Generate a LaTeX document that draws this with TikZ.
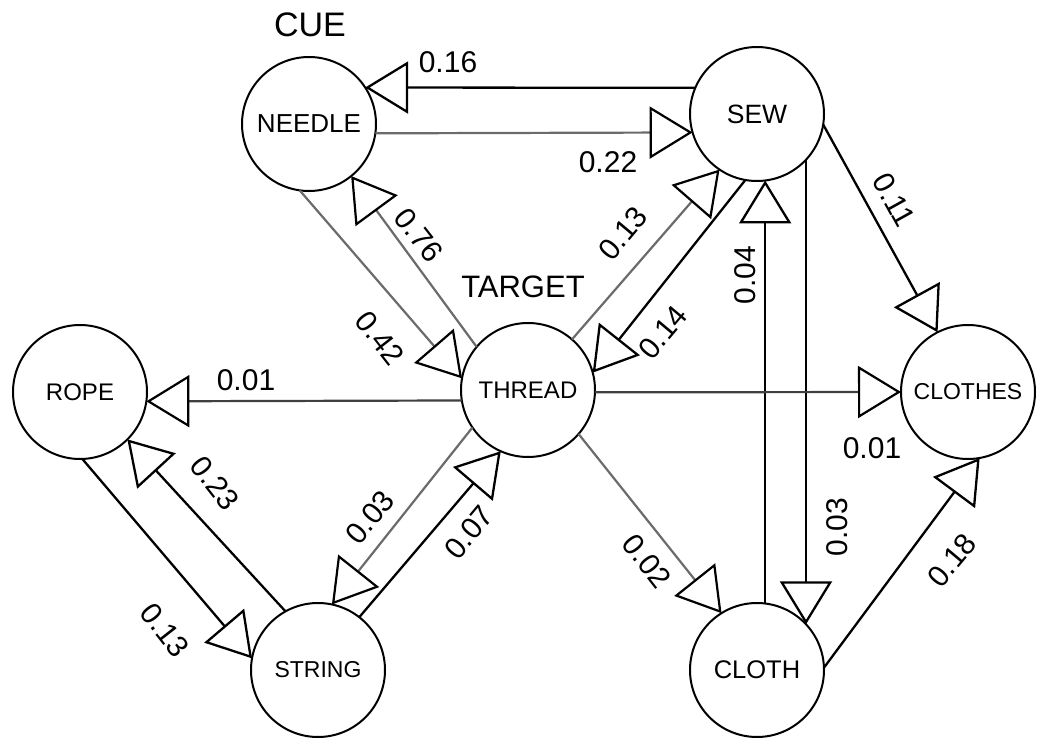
\documentclass[tikz,border=0pt]{standalone}
\usepackage{fontspec}
\setmainfont{Liberation Sans}
\usetikzlibrary{arrows.meta}
\begin{document}
\begin{tikzpicture}[x=1pt,y=-1pt,
  state/.style={circle, draw, line width=2pt, minimum size=134pt, inner sep=0pt, outer sep=0pt,
    font=\fontsize{24}{24}\selectfont},
  fs/.style={font=\fontsize{#1}{#1}\selectfont},
  num/.style={inner sep=0pt, font=\fontsize{30}{30}\selectfont},
  big/.style={inner sep=0pt, font=\fontsize{32}{32}\selectfont},
  tip/.style={-{Triangle[open,length=43pt,width=52pt,color=black]}},
  blk/.style={tip, line width=2.3pt, draw=black},
  gry/.style={tip, line width=2.2pt, draw=black!58},
  dgry/.style={tip, line width=2.2pt, draw=black!75}]
\useasboundingbox (0,0) rectangle (1050,746);
\fill[white] (0,0) rectangle (1050,746);

% nodes
\node[state, fs=26] (needle)  at (309,124) {NEEDLE};
\node[state, fs=26.5] (sew)   at (757,114) {SEW};
\node[state, fs=24] (thread)  at (528,390) {THREAD};
\node[state, fs=24] (rope)    at (80,392)  {ROPE};
\node[state, fs=23] (clothes) at (968,392) {CLOTHES};
\node[state, fs=23] (string)  at (318,670) {STRING};
\node[state, fs=25.5] (cloth) at (757,670) {CLOTH};

\node[big, fs=34] (cue) at (310,25) {CUE};
\node[big, fs=31] (target) at (523,287) {TARGET};

% edges
\draw[blk]  (sew.157)     -- (needle.33);
\draw[gry]  (needle.-8)   -- (sew.-164);
\draw[gry]  (needle.262)  -- (thread.170);
\draw[gry]  (thread.140)  -- (needle.-51);
\draw[gry]  (thread.49)   -- (sew.-124);
\draw[blk]  (sew.-100)    -- (thread.15);
\draw[blk]  (sew.-9)      -- (clothes.117);
\draw[blk]  (sew.-43)     -- (cloth.43);
\draw[blk]  (cloth.83)    -- (sew.-83);
\draw[dgry] (thread.-2.5) -- (clothes.180.8);
\draw[dgry] (thread.189.5) -- (rope.-8.6);
\draw[blk]  (rope.-88)    -- (string.170);
\draw[blk]  (string.119)  -- (rope.-45);
\draw[gry]  (thread.214)  -- (string.78);
\draw[blk]  (string.52)   -- (thread.246);
\draw[gry]  (thread.-41)  -- (cloth.122);
\draw[blk]  (cloth.2)     -- (clothes.-80);

% labels
\node[num] (l016)  at (448,62)  {0.16};
\node[num] (l022)  at (608,162) {0.22};
\node[num, rotate=-52] (l042) at (380,338) {0.42};
\node[num, rotate=-52] (l076) at (419,235) {0.76};
\node[num, rotate=50]  (l013a) at (623,233) {0.13};
\node[num, rotate=50]  (l014) at (663,332) {0.14};
\node[num, rotate=90]  (l004) at (745,275) {0.04};
\node[num, rotate=-61] (l011) at (894,200) {0.11};
\node[num] (l001a) at (872,448) {0.01};
\node[num, rotate=90]  (l003a) at (837,527) {0.03};
\node[num, rotate=-52] (l002) at (647,561) {0.02};
\node[num, rotate=50]  (l018) at (952,560) {0.18};
\node[num] (l001b) at (246,380) {0.01};
\node[num, rotate=-52] (l023) at (215,483) {0.23};
\node[num, rotate=-52] (l013b) at (165,630) {0.13};
\node[num, rotate=50]  (l003b) at (370,517) {0.03};
\node[num, rotate=50]  (l007) at (469,532) {0.07};
\end{tikzpicture}
\end{document}
